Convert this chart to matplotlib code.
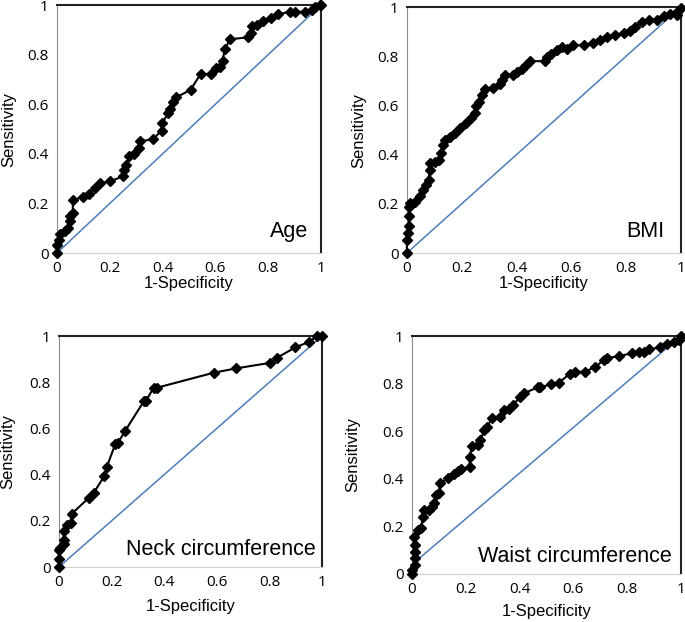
import matplotlib
matplotlib.use("Agg")
import matplotlib.pyplot as plt

# ROC points: (1-specificity, sensitivity)
ageFpr = [0, 0, 0.008, 0.012, 0.03, 0.04, 0.048, 0.05, 0.06, 0.06, 0.10, 0.12, 0.143, 0.162,
          0.2, 0.25, 0.253, 0.263, 0.273, 0.29, 0.311, 0.313, 0.364, 0.396, 0.398, 0.421,
          0.427, 0.44, 0.452, 0.506, 0.544, 0.585, 0.604, 0.617, 0.627, 0.636, 0.655, 0.724,
          0.733, 0.74, 0.758, 0.781, 0.809, 0.838, 0.882, 0.901, 0.939, 0.965, 0.977, 0.996, 1]
ageTpr = [0, 0.034, 0.054, 0.077, 0.09, 0.10, 0.128, 0.15, 0.16, 0.215, 0.225, 0.24, 0.262,
          0.282, 0.289, 0.309, 0.336, 0.356, 0.392, 0.40, 0.423, 0.45, 0.459, 0.494, 0.523,
          0.564, 0.58, 0.607, 0.628, 0.658, 0.722, 0.722, 0.745, 0.752, 0.776, 0.821, 0.862,
          0.870, 0.886, 0.915, 0.919, 0.937, 0.946, 0.963, 0.973, 0.973, 0.973, 0.982, 0.993,
          1.0, 1.0]

bmiFpr = [0, 0, 0.004, 0.006, 0.009, 0.009, 0.012, 0.03, 0.049, 0.058, 0.071, 0.079, 0.083,
          0.085, 0.103, 0.119, 0.124, 0.131, 0.14, 0.158, 0.176, 0.195, 0.217, 0.234, 0.249,
          0.253, 0.262, 0.274, 0.286, 0.316, 0.341, 0.347, 0.359, 0.389, 0.401, 0.42, 0.436,
          0.45, 0.505, 0.511, 0.526, 0.547, 0.566, 0.584, 0.608, 0.645, 0.681, 0.706, 0.73,
          0.76, 0.791, 0.815, 0.833, 0.858, 0.882, 0.912, 0.937, 0.961, 0.985, 0.985, 1]
bmiTpr = [0, 0.054, 0.081, 0.108, 0.149, 0.189, 0.205, 0.209, 0.23, 0.257, 0.277, 0.297, 0.338,
          0.365, 0.372, 0.378, 0.405, 0.439, 0.459, 0.473, 0.489, 0.507, 0.527, 0.547, 0.570,
          0.597, 0.615, 0.642, 0.665, 0.669, 0.686, 0.703, 0.723, 0.723, 0.736, 0.75, 0.764,
          0.78, 0.78, 0.797, 0.811, 0.827, 0.838, 0.831, 0.845, 0.845, 0.855, 0.868, 0.878,
          0.885, 0.895, 0.903, 0.919, 0.939, 0.949, 0.949, 0.962, 0.973, 0.966, 0.98, 0.997]

neckFpr = [0, 0, 0, 0.005, 0.02, 0.018, 0.018, 0.03, 0.046, 0.049, 0.113, 0.132, 0.172, 0.182,
           0.214, 0.223, 0.252, 0.324, 0.331, 0.36, 0.372, 0.588, 0.674, 0.804, 0.829, 0.899,
           0.952, 0.981, 1]
neckTpr = [0, 0.036, 0.072, 0.084, 0.101, 0.116, 0.156, 0.184, 0.192, 0.231, 0.299, 0.321,
           0.393, 0.434, 0.532, 0.535, 0.590, 0.72, 0.72, 0.776, 0.776, 0.841, 0.86, 0.884,
           0.906, 0.951, 0.975, 1.0, 1.0]

waistFpr = [0, 0, 0.012, 0.012, 0.012, 0.012, 0.009, 0.021, 0.033, 0.041, 0.043, 0.062, 0.074,
            0.083, 0.09, 0.099, 0.105, 0.133, 0.155, 0.17, 0.182, 0.214, 0.214, 0.223, 0.244,
            0.254, 0.269, 0.279, 0.297, 0.326, 0.341, 0.359, 0.375, 0.403, 0.415, 0.467, 0.477,
            0.517, 0.545, 0.586, 0.607, 0.644, 0.682, 0.713, 0.725, 0.768, 0.818, 0.843, 0.864,
            0.88, 0.923, 0.948, 0.973, 0.991, 1]
waistTpr = [0, 0.017, 0.038, 0.066, 0.094, 0.122, 0.154, 0.185, 0.192, 0.241, 0.269, 0.269,
            0.283, 0.297, 0.332, 0.342, 0.381, 0.402, 0.42, 0.434, 0.44, 0.448, 0.493, 0.538,
            0.542, 0.563, 0.605, 0.619, 0.654, 0.661, 0.689, 0.692, 0.71, 0.745, 0.759, 0.784,
            0.784, 0.798, 0.804, 0.84, 0.85, 0.85, 0.871, 0.899, 0.906, 0.916, 0.927, 0.934,
            0.934, 0.944, 0.952, 0.966, 0.976, 0.983, 1.0]

panelNames = ["Age", "BMI", "Neck circumference", "Waist circumference"]
tickValues = [0, 0.2, 0.4, 0.6, 0.8, 1]
tickLabels = ["0", "0.2", "0.4", "0.6", "0.8", "1"]


def drawPanel(rect, fpr, tpr, name, textPos, xPad=0, yPad=8, diagStart=0.0):
    ax = fig.add_axes(rect)
    ax.plot([0, 1], [diagStart, 1], color="#4a7ebb", lw=1.1, zorder=2)
    ax.plot(fpr, tpr, "-D", color="black", lw=1.5, markersize=5, clip_on=False, zorder=3)
    ax.set_xlim(0, 1)
    ax.set_ylim(0, 1)
    ax.set_xticks(tickValues)
    ax.set_xticklabels(tickLabels)
    ax.set_yticks(tickValues)
    ax.set_yticklabels(tickLabels)
    ax.tick_params(length=0, labelsize=11, pad=6)
    for lab in ax.get_xticklabels() + ax.get_yticklabels():
        lab.set_family("Open Sans")
    ax.spines["left"].set_color("#8c8c8c")
    ax.spines["bottom"].set_color("#d0d0d0")
    ax.spines["top"].set_color("#222222")
    ax.spines["right"].set_color("#222222")
    ax.spines["top"].set_linewidth(1.5)
    ax.spines["right"].set_linewidth(1.5)
    ax.set_xlabel("1-Specificity", fontsize=12, labelpad=xPad)
    ax.set_ylabel("Sensitivity", fontsize=12, labelpad=yPad)
    ax.text(textPos[0], textPos[1], name, transform=ax.transAxes, ha="right",
            va="baseline", fontsize=15.5)
    return ax


plt.rcParams['font.family'] = ['Liberation Sans', 'DejaVu Sans']
fig = plt.figure(figsize=(6.85, 6.22), dpi=100)

drawPanel([0.0832, 0.5932, 0.3854, 0.3987], ageFpr, ageTpr, panelNames[0], (0.95, 0.065))
drawPanel([0.594, 0.5932, 0.4, 0.3955], bmiFpr, bmiTpr, panelNames[1], (0.938, 0.065))
drawPanel([0.0861, 0.0884, 0.384, 0.3714], neckFpr, neckTpr, panelNames[2], (0.977, 0.05),
          xPad=6, yPad=10)
drawPanel([0.6015, 0.0772, 0.3927, 0.3826], waistFpr, waistTpr, panelNames[3], (0.966, 0.05),
          xPad=5, yPad=16, diagStart=0.04)

fig.savefig("out.png", dpi=100)
